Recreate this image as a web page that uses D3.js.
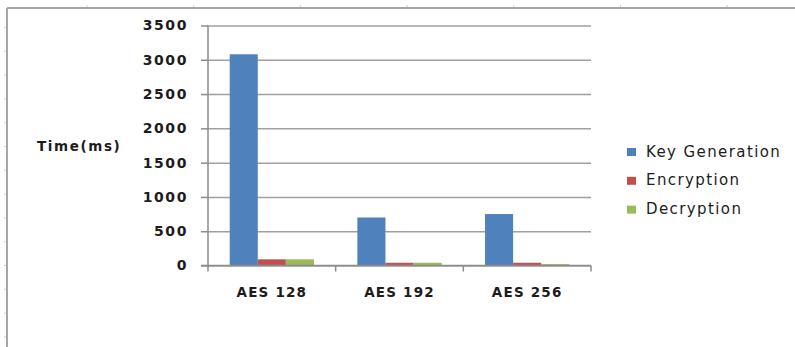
<!DOCTYPE html>
<html>
<head>
<meta charset="utf-8">
<script src="https://cdn.jsdelivr.net/npm/d3@7"></script>
<style>
  body { margin: 0; background: #fff; }
  svg text { font-family: "DejaVu Sans", Verdana, sans-serif; fill: #1c1c1c; }
</style>
</head>
<body>
<div id="chart"></div>
<script>
var categories = ["AES 128", "AES 192", "AES 256"];
var seriesNames = ["Key Generation", "Encryption", "Decryption"];
var keyGeneration = [3080, 700, 750];
var encryption = [90, 40, 40];
var decryption = [90, 40, 20];
var yTicks = [0, 500, 1000, 1500, 2000, 2500, 3000, 3500];
var colors = ["#4F81BD", "#C0504D", "#9BBB59"];

var svgWidth = 795;
var svgHeight = 347;

var margin = { top: 25.5, left: 208, right: 204, bottom: 81.5 };
var width = svgWidth - margin.left - margin.right;
var height = svgHeight - margin.top - margin.bottom;

var svg = d3.select("#chart")
  .append("svg")
  .attr("width", svgWidth)
  .attr("height", svgHeight);

// outer frame (the sheet border around the chart)
svg.append("line")
  .attr("x1", 7).attr("x2", svgWidth).attr("y1", 8).attr("y2", 8)
  .attr("stroke", "#a6a6a6").attr("stroke-width", 2);
svg.append("line")
  .attr("x1", 7).attr("x2", 7).attr("y1", 8).attr("y2", svgHeight)
  .attr("stroke", "#a6a6a6").attr("stroke-width", 2);
svg.selectAll(".fx").data(d3.range(87, svgWidth, 106.7)).enter()
  .append("line")
  .attr("x1", d => d).attr("x2", d => d).attr("y1", 5).attr("y2", 7)
  .attr("stroke", "#d0d0d0");
svg.selectAll(".fy").data(d3.range(27.5, svgHeight, 23.8)).enter()
  .append("line")
  .attr("x1", 4).attr("x2", 6).attr("y1", d => d).attr("y2", d => d)
  .attr("stroke", "#d0d0d0");

var chartGroup = svg.append("g")
  .attr("transform", `translate(${margin.left}, ${margin.top})`);

// scales
var x0 = d3.scaleBand()
  .domain(categories)
  .range([0, width])
  .paddingInner(0.34)
  .paddingOuter(0.17);

var x1 = d3.scaleBand()
  .domain(seriesNames)
  .range([0, x0.bandwidth()]);

var yLinearScale = d3.scaleLinear()
  .domain([0, 3500])
  .range([height, 0]);

var tickScale = d3.scaleLinear()
  .domain([0, categories.length])
  .range([0, width]);

// gridlines
var grid = chartGroup.append("g")
  .call(d3.axisLeft(yLinearScale).tickValues(yTicks).tickSize(-width).tickFormat(""));
grid.select(".domain").remove();
grid.selectAll("line").attr("stroke", "#a0a0a0").attr("stroke-width", 1.5);

// bars
var table = categories.map(function(c, i) {
  return [keyGeneration[i], encryption[i], decryption[i]];
});

var groups = chartGroup.selectAll(".cat")
  .data(table)
  .enter()
  .append("g")
  .attr("transform", (d, i) => `translate(${x0(categories[i])}, 0)`);

groups.selectAll("rect")
  .data(d => d)
  .enter()
  .append("rect")
  .attr("x", (d, j) => x1(seriesNames[j]))
  .attr("y", d => yLinearScale(d))
  .attr("width", x1.bandwidth())
  .attr("height", d => height - yLinearScale(d))
  .attr("fill", (d, j) => colors[j]);

// y axis
var leftAxis = d3.axisLeft(yLinearScale)
  .tickValues(yTicks)
  .tickFormat(d3.format("d"))
  .tickSize(7)
  .tickPadding(13);
var yAxisG = chartGroup.append("g").call(leftAxis);
yAxisG.select(".domain").attr("stroke", "#8c8c8c").attr("stroke-width", 1.5)
  .attr("d", `M0,0V${height}`);
yAxisG.selectAll("line").attr("stroke", "#8c8c8c").attr("stroke-width", 1.5);
yAxisG.selectAll("text")
  .style("font-family", "'DejaVu Sans', sans-serif")
  .style("font-size", "14px")
  .style("font-weight", "bold")
  .style("letter-spacing", "1.6px")
  .attr("fill", "#1c1c1c");

// x axis
var xAxisG = chartGroup.append("g")
  .attr("transform", `translate(0, ${height})`);
xAxisG.append("line")
  .attr("x1", -7).attr("x2", width).attr("y1", 0).attr("y2", 0)
  .attr("stroke", "#8c8c8c").attr("stroke-width", 1.5);
xAxisG.selectAll(".xt")
  .data(d3.range(categories.length + 1))
  .enter()
  .append("line")
  .attr("x1", d => tickScale(d)).attr("x2", d => tickScale(d))
  .attr("y1", 0).attr("y2", 6)
  .attr("stroke", "#8c8c8c").attr("stroke-width", 1.5);
xAxisG.selectAll(".xl")
  .data(categories)
  .enter()
  .append("text")
  .attr("x", d => x0(d) + x0.bandwidth() / 2)
  .attr("y", 31)
  .attr("text-anchor", "middle")
  .style("font-size", "13.5px")
  .style("font-weight", "bold")
  .style("letter-spacing", "1.2px")
  .text(d => d);

// y title
svg.append("text")
  .attr("x", 37)
  .attr("y", 151)
  .style("font-size", "13.5px")
  .style("font-weight", "bold")
  .style("letter-spacing", "1.6px")
  .text("Time(ms)");

// legend
var legend = svg.selectAll(".legend")
  .data(seriesNames)
  .enter()
  .append("g")
  .attr("transform", (d, i) => `translate(627, ${148 + i * 28.8})`);

legend.append("rect")
  .attr("width", 9)
  .attr("height", 8)
  .attr("fill", (d, i) => colors[i]);

legend.append("text")
  .attr("x", 19)
  .attr("y", 8.5)
  .style("font-size", "15px")
  .style("letter-spacing", "1.4px")
  .text(d => d);
</script>
</body>
</html>
